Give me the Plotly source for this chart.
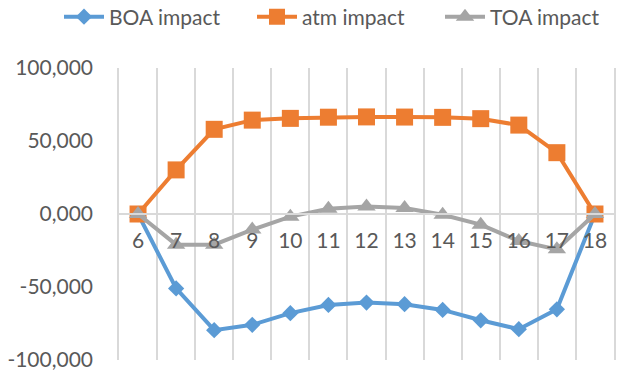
import plotly.graph_objects as go

hours = ["6", "7", "8", "9", "10", "11", "12", "13", "14", "15", "16", "17", "18"]
boa = [0, -51, -79.6, -75.9, -67.9, -62.3, -60.7, -61.8, -65.7, -72.8, -78.9, -65.3, 0]
atm = [0, 30.2, 58.0, 64.3, 65.5, 66.3, 66.5, 66.4, 66.2, 65.3, 60.9, 42.0, 0]
toa = [0, -21, -21, -10.7, -1.8, 3.6, 5.2, 4.1, -0.5, -7.3, -18.5, -24.2, 0]
ytick_vals = [100, 50, 0, -50, -100]
ytick_text = ["100,000", "50,000", "0,000", "-50,000", "-100,000"]

FONT = "Lato"
W, H = 624, 378
fig = go.Figure()
fig.add_trace(go.Scatter(x=hours, y=boa, name="BOA impact", mode="lines+markers",
                         line=dict(color="#5B9BD5", width=4), legend="legend",
                         showlegend=True,
                         marker=dict(symbol="diamond", size=12.5, color="#5B9BD5")))
fig.add_trace(go.Scatter(x=hours, y=atm, name="atm impact", mode="lines+markers",
                         line=dict(color="#ED7D31", width=4), legend="legend2",
                         showlegend=True,
                         marker=dict(symbol="square", size=17, color="#ED7D31")))
fig.add_trace(go.Scatter(x=hours, y=toa, name="TOA impact", mode="lines+markers",
                         line=dict(color="#A5A5A5", width=4), legend="legend3",
                         showlegend=True,
                         marker=dict(symbol="triangle-up", size=16, color="#A5A5A5")))

def leg(text_left):
    return dict(orientation="h", x=(text_left - 46) / W, xanchor="left",
                xref="container", y=1 - 17 / H, yanchor="middle", yref="container",
                font=dict(size=21, color="#595959"), itemwidth=40,
                bgcolor="rgba(0,0,0,0)", visible=True)

fig.update_layout(
    width=W, height=H,
    showlegend=True,
    margin=dict(l=119, r=10, t=68, b=18),
    paper_bgcolor="white", plot_bgcolor="white",
    font=dict(family=FONT, color="#595959", size=21),
    legend=leg(105), legend2=leg(298), legend3=leg(486),
    xaxis=dict(type="category", tickson="boundaries", showgrid=True,
               gridcolor="#D9D9D9", gridwidth=1.5, ticks="",
               showline=True, linecolor="#D9D9D9", linewidth=1.5,
               anchor="free", position=0.5, range=[-0.5, 12.5],
               tickfont=dict(size=21, color="#595959"), zeroline=False,
               ticklabelstandoff=8, automargin=False),
    yaxis=dict(range=[-100, 100], tickvals=ytick_vals, ticktext=ytick_text,
               showgrid=False, zeroline=False, showline=True, mirror=True,
               linecolor="#D9D9D9", linewidth=1.5, ticks="",
               tickfont=dict(size=21, color="#595959"), ticklabelstandoff=20,
               automargin=False),
)
fig.write_html("out.html", config={"displayModeBar": False},
               post_script="document.body.style.margin='0px';")
